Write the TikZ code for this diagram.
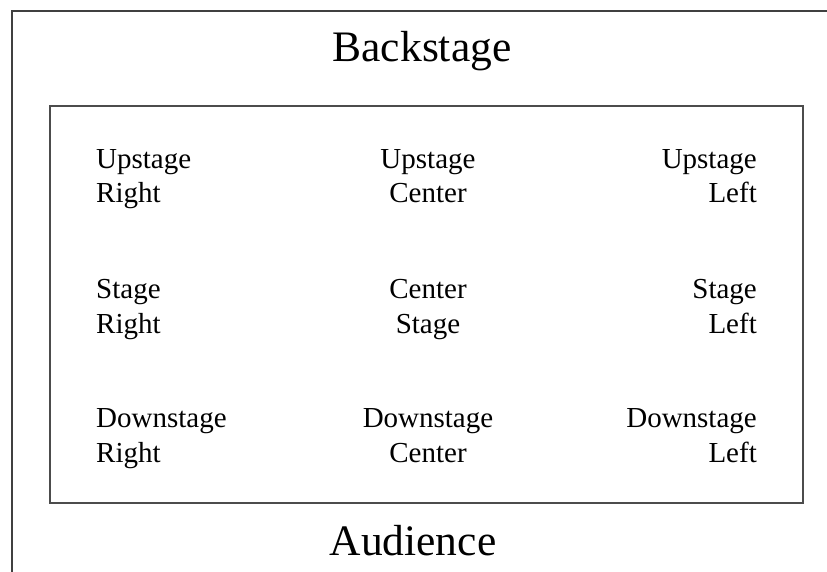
\documentclass[tikz,border=0pt]{standalone}
\usepackage{fontspec}
\setmainfont{Liberation Serif}
\begin{document}
\begin{tikzpicture}[x=1pt,y=-1pt,
  lbl/.style={inner sep=0pt, font=\fontsize{29}{34.5}\selectfont},
  big/.style={inner sep=0pt, font=\fontsize{43.5}{50}\selectfont},
  frame/.style={draw=black!75, line width=1.3pt}]
\useasboundingbox (0,0) rectangle (827,572);
\draw[frame] (12,572) -- (12,11) -- (827,11);
\draw[draw=black!70, line width=1.6pt] (50,106) rectangle (803,503);
\node[big, anchor=base] (back) at (422,62) {Backstage};
\node[big, anchor=base] (aud) at (413,555) {Audience};
% row 1 (anchor = baseline of the second line)
\node[lbl, anchor=base west, align=left] (usr) at (96,203) {Upstage\\Right};
\node[lbl, anchor=base, align=center] (usc) at (428,203) {Upstage\\Center};
\node[lbl, anchor=base east, align=right] (usl) at (757,203) {Upstage\\Left};
% row 2
\node[lbl, anchor=base west, align=left] (sr) at (96,333) {Stage\\Right};
\node[lbl, anchor=base, align=center] (cs) at (428,333) {Center\\Stage};
\node[lbl, anchor=base east, align=right] (sl) at (757,333) {Stage\\Left};
% row 3
\node[lbl, anchor=base west, align=left] (dsr) at (96,462) {Downstage\\Right};
\node[lbl, anchor=base, align=center] (dsc) at (428,462) {Downstage\\Center};
\node[lbl, anchor=base east, align=right] (dsl) at (757,462) {Downstage\\Left};
\end{tikzpicture}
\end{document}
